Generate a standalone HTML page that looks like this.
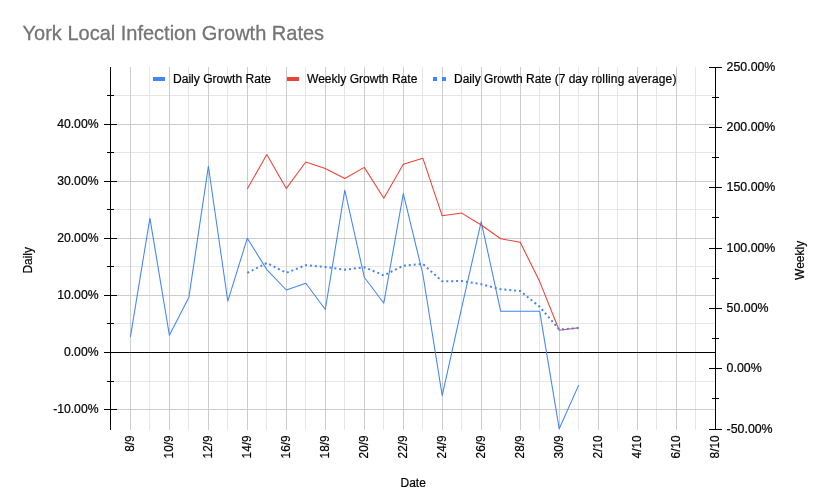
<!DOCTYPE html>
<html><head><meta charset="utf-8"><title>York Local Infection Growth Rates</title>
<style>
html,body{margin:0;padding:0;background:#fff;}
body{width:820px;height:499px;overflow:hidden;}
svg{display:block;will-change:transform;}
text{font-family:"Liberation Sans",sans-serif;}
</style></head><body>
<svg width="820" height="499" viewBox="0 0 820 499">
<rect width="820" height="499" fill="#ffffff"/>

<text transform="translate(22.60,39.70) scale(1.0,1.04)" font-size="20" fill="#757575" stroke="#757575" stroke-width="0.3">York Local Infection Growth Rates</text>
<g stroke="#e6e6e6" stroke-width="1" shape-rendering="crispEdges">
<line x1="110.5" x2="715.5" y1="95.5" y2="95.5"/>
<line x1="110.5" x2="715.5" y1="152.5" y2="152.5"/>
<line x1="110.5" x2="715.5" y1="209.5" y2="209.5"/>
<line x1="110.5" x2="715.5" y1="266.5" y2="266.5"/>
<line x1="110.5" x2="715.5" y1="323.5" y2="323.5"/>
<line x1="110.5" x2="715.5" y1="381.5" y2="381.5"/>
<line x1="149.5" x2="149.5" y1="67.0" y2="430.0"/>
<line x1="188.5" x2="188.5" y1="67.0" y2="430.0"/>
<line x1="227.5" x2="227.5" y1="67.0" y2="430.0"/>
<line x1="266.5" x2="266.5" y1="67.0" y2="430.0"/>
<line x1="305.5" x2="305.5" y1="67.0" y2="430.0"/>
<line x1="344.5" x2="344.5" y1="67.0" y2="430.0"/>
<line x1="383.5" x2="383.5" y1="67.0" y2="430.0"/>
<line x1="422.5" x2="422.5" y1="67.0" y2="430.0"/>
<line x1="461.5" x2="461.5" y1="67.0" y2="430.0"/>
<line x1="500.5" x2="500.5" y1="67.0" y2="430.0"/>
<line x1="539.5" x2="539.5" y1="67.0" y2="430.0"/>
<line x1="578.5" x2="578.5" y1="67.0" y2="430.0"/>
<line x1="617.5" x2="617.5" y1="67.0" y2="430.0"/>
<line x1="656.5" x2="656.5" y1="67.0" y2="430.0"/>
<line x1="695.5" x2="695.5" y1="67.0" y2="430.0"/>
</g>
<g stroke="#cccccc" stroke-width="1" shape-rendering="crispEdges">
<line x1="110.5" x2="715.5" y1="124.5" y2="124.5"/>
<line x1="110.5" x2="715.5" y1="181.5" y2="181.5"/>
<line x1="110.5" x2="715.5" y1="238.5" y2="238.5"/>
<line x1="110.5" x2="715.5" y1="295.5" y2="295.5"/>
<line x1="110.5" x2="715.5" y1="409.5" y2="409.5"/>
<line x1="130.5" x2="130.5" y1="67.0" y2="430.0"/>
<line x1="169.5" x2="169.5" y1="67.0" y2="430.0"/>
<line x1="208.5" x2="208.5" y1="67.0" y2="430.0"/>
<line x1="247.5" x2="247.5" y1="67.0" y2="430.0"/>
<line x1="286.5" x2="286.5" y1="67.0" y2="430.0"/>
<line x1="325.5" x2="325.5" y1="67.0" y2="430.0"/>
<line x1="364.5" x2="364.5" y1="67.0" y2="430.0"/>
<line x1="403.5" x2="403.5" y1="67.0" y2="430.0"/>
<line x1="442.5" x2="442.5" y1="67.0" y2="430.0"/>
<line x1="481.5" x2="481.5" y1="67.0" y2="430.0"/>
<line x1="520.5" x2="520.5" y1="67.0" y2="430.0"/>
<line x1="559.5" x2="559.5" y1="67.0" y2="430.0"/>
<line x1="598.5" x2="598.5" y1="67.0" y2="430.0"/>
<line x1="637.5" x2="637.5" y1="67.0" y2="430.0"/>
<line x1="676.5" x2="676.5" y1="67.0" y2="430.0"/>
</g>
<line x1="110.5" x2="715.5" y1="352.5" y2="352.5" stroke="#000" stroke-width="1" shape-rendering="crispEdges"/>
<polyline points="130.4,336.8 149.9,218.2 169.4,335.3 188.9,297.2 208.4,166.2 227.8,301.2 247.3,238.2 266.8,269.6 286.3,290.0 305.8,283.2 325.3,309.5 344.8,190.2 364.3,277.2 383.8,303.2 403.3,193.6 422.8,274.0 442.2,395.6 461.7,307.6 481.2,221.6 500.7,311.3 520.2,311.3 539.7,311.3 559.2,428.8 578.7,385.1" fill="none" stroke="#4285f4" stroke-width="1.05" stroke-linejoin="round"/>
<polyline points="247.3,188.9 266.8,154.5 286.3,188.4 305.8,162.0 325.3,168.5 344.8,178.5 364.3,167.4 383.8,198.3 403.3,164.2 422.8,158.2 442.2,215.8 461.7,213.1 481.2,225.0 500.7,238.7 520.2,242.3 539.7,281.6 559.2,330.3 578.7,327.8" fill="none" stroke="#ea4335" stroke-width="1.05" stroke-linejoin="round"/>
<polyline points="247.3,272.9 266.8,263.0 286.3,272.8 305.8,265.2 325.3,267.0 344.8,269.7 364.3,267.3 383.8,275.4 403.3,265.7 422.8,263.9 442.2,281.3 461.7,281.0 481.2,284.2 500.7,289.2 520.2,291.0 539.7,306.8 559.2,329.5 578.7,328.0" fill="none" stroke="#4285f4" stroke-width="2" stroke-dasharray="2 2.913"/>
<g stroke="#000" stroke-width="1" shape-rendering="crispEdges">
<line x1="110.5" x2="110.5" y1="67.0" y2="430.0"/>
<line x1="715.5" x2="715.5" y1="67.0" y2="430.0"/>
<line x1="104.0" x2="117.0" y1="124.5" y2="124.5"/>
<line x1="104.0" x2="117.0" y1="181.5" y2="181.5"/>
<line x1="104.0" x2="117.0" y1="238.5" y2="238.5"/>
<line x1="104.0" x2="117.0" y1="295.5" y2="295.5"/>
<line x1="104.0" x2="117.0" y1="352.5" y2="352.5"/>
<line x1="104.0" x2="117.0" y1="409.5" y2="409.5"/>
<line x1="107.0" x2="114.0" y1="95.5" y2="95.5"/>
<line x1="107.0" x2="114.0" y1="152.5" y2="152.5"/>
<line x1="107.0" x2="114.0" y1="209.5" y2="209.5"/>
<line x1="107.0" x2="114.0" y1="266.5" y2="266.5"/>
<line x1="107.0" x2="114.0" y1="323.5" y2="323.5"/>
<line x1="107.0" x2="114.0" y1="381.5" y2="381.5"/>
<line x1="709.0" x2="722.0" y1="67.5" y2="67.5"/>
<line x1="709.0" x2="722.0" y1="127.5" y2="127.5"/>
<line x1="709.0" x2="722.0" y1="187.5" y2="187.5"/>
<line x1="709.0" x2="722.0" y1="248.5" y2="248.5"/>
<line x1="709.0" x2="722.0" y1="308.5" y2="308.5"/>
<line x1="709.0" x2="722.0" y1="368.5" y2="368.5"/>
<line x1="709.0" x2="722.0" y1="429.5" y2="429.5"/>
<line x1="712.0" x2="719.0" y1="97.5" y2="97.5"/>
<line x1="712.0" x2="719.0" y1="157.5" y2="157.5"/>
<line x1="712.0" x2="719.0" y1="217.5" y2="217.5"/>
<line x1="712.0" x2="719.0" y1="278.5" y2="278.5"/>
<line x1="712.0" x2="719.0" y1="338.5" y2="338.5"/>
<line x1="712.0" x2="719.0" y1="398.5" y2="398.5"/>
</g>
<g font-size="12" fill="#000" stroke="#000" stroke-width="0.2">
<text transform="translate(98.50,128.10) scale(1.015,1.045)" text-anchor="end">40.00%</text>
<text transform="translate(98.50,185.10) scale(1.015,1.045)" text-anchor="end">30.00%</text>
<text transform="translate(98.50,242.10) scale(1.015,1.045)" text-anchor="end">20.00%</text>
<text transform="translate(98.50,299.10) scale(1.015,1.045)" text-anchor="end">10.00%</text>
<text transform="translate(98.50,356.10) scale(1.015,1.045)" text-anchor="end">0.00%</text>
<text transform="translate(98.50,413.10) scale(1.015,1.045)" text-anchor="end">-10.00%</text>
<text transform="translate(726.60,71.10) scale(1.03,1.045)">250.00%</text>
<text transform="translate(726.60,131.10) scale(1.03,1.045)">200.00%</text>
<text transform="translate(726.60,191.10) scale(1.03,1.045)">150.00%</text>
<text transform="translate(726.60,252.10) scale(1.03,1.045)">100.00%</text>
<text transform="translate(726.60,312.10) scale(1.03,1.045)">50.00%</text>
<text transform="translate(726.60,372.10) scale(1.03,1.045)">0.00%</text>
<text transform="translate(726.60,433.10) scale(1.03,1.045)">-50.00%</text>
<text transform="translate(134.20,435.40) rotate(-90) scale(0.985,1.045)" text-anchor="end">8/9</text>
<text transform="translate(173.20,435.40) rotate(-90) scale(0.985,1.045)" text-anchor="end">10/9</text>
<text transform="translate(212.20,435.40) rotate(-90) scale(0.985,1.045)" text-anchor="end">12/9</text>
<text transform="translate(251.20,435.40) rotate(-90) scale(0.985,1.045)" text-anchor="end">14/9</text>
<text transform="translate(290.20,435.40) rotate(-90) scale(0.985,1.045)" text-anchor="end">16/9</text>
<text transform="translate(329.20,435.40) rotate(-90) scale(0.985,1.045)" text-anchor="end">18/9</text>
<text transform="translate(368.20,435.40) rotate(-90) scale(0.985,1.045)" text-anchor="end">20/9</text>
<text transform="translate(407.20,435.40) rotate(-90) scale(0.985,1.045)" text-anchor="end">22/9</text>
<text transform="translate(446.20,435.40) rotate(-90) scale(0.985,1.045)" text-anchor="end">24/9</text>
<text transform="translate(485.20,435.40) rotate(-90) scale(0.985,1.045)" text-anchor="end">26/9</text>
<text transform="translate(524.20,435.40) rotate(-90) scale(0.985,1.045)" text-anchor="end">28/9</text>
<text transform="translate(563.20,435.40) rotate(-90) scale(0.985,1.045)" text-anchor="end">30/9</text>
<text transform="translate(602.20,435.40) rotate(-90) scale(0.985,1.045)" text-anchor="end">2/10</text>
<text transform="translate(641.20,435.40) rotate(-90) scale(0.985,1.045)" text-anchor="end">4/10</text>
<text transform="translate(680.20,435.40) rotate(-90) scale(0.985,1.045)" text-anchor="end">6/10</text>
<text transform="translate(719.20,435.40) rotate(-90) scale(0.985,1.045)" text-anchor="end">8/10</text>
<text transform="translate(413.20,486.70) scale(1.0,1.04)" text-anchor="middle">Date</text>
<text transform="translate(32.10,260.30) rotate(-90) scale(1.0,1.04)" text-anchor="middle">Daily</text>
<text transform="translate(803.80,260.40) rotate(-90) scale(1.0,1.04)" text-anchor="middle">Weekly</text>
<rect x="153" y="77" width="12" height="4" fill="#4285f4" stroke="none"/>
<text transform="translate(173.00,83.30) scale(1.008,1.04)">Daily Growth Rate</text>
<rect x="287" y="77" width="12" height="4" fill="#ea4335" stroke="none"/>
<text transform="translate(307.00,83.30) scale(1.006,1.04)">Weekly Growth Rate</text>
<rect x="433" y="77" width="4" height="4" fill="#4285f4" stroke="none"/><rect x="442" y="77" width="4" height="4" fill="#4285f4" stroke="none"/>
<text transform="translate(454.00,83.30) scale(1.0,1.04)">Daily Growth Rate (7 day</text>
<text transform="translate(591.40,83.30) scale(1.0,1.04)" textLength="85" lengthAdjust="spacing">rolling average)</text>
</g>
</svg></body></html>
